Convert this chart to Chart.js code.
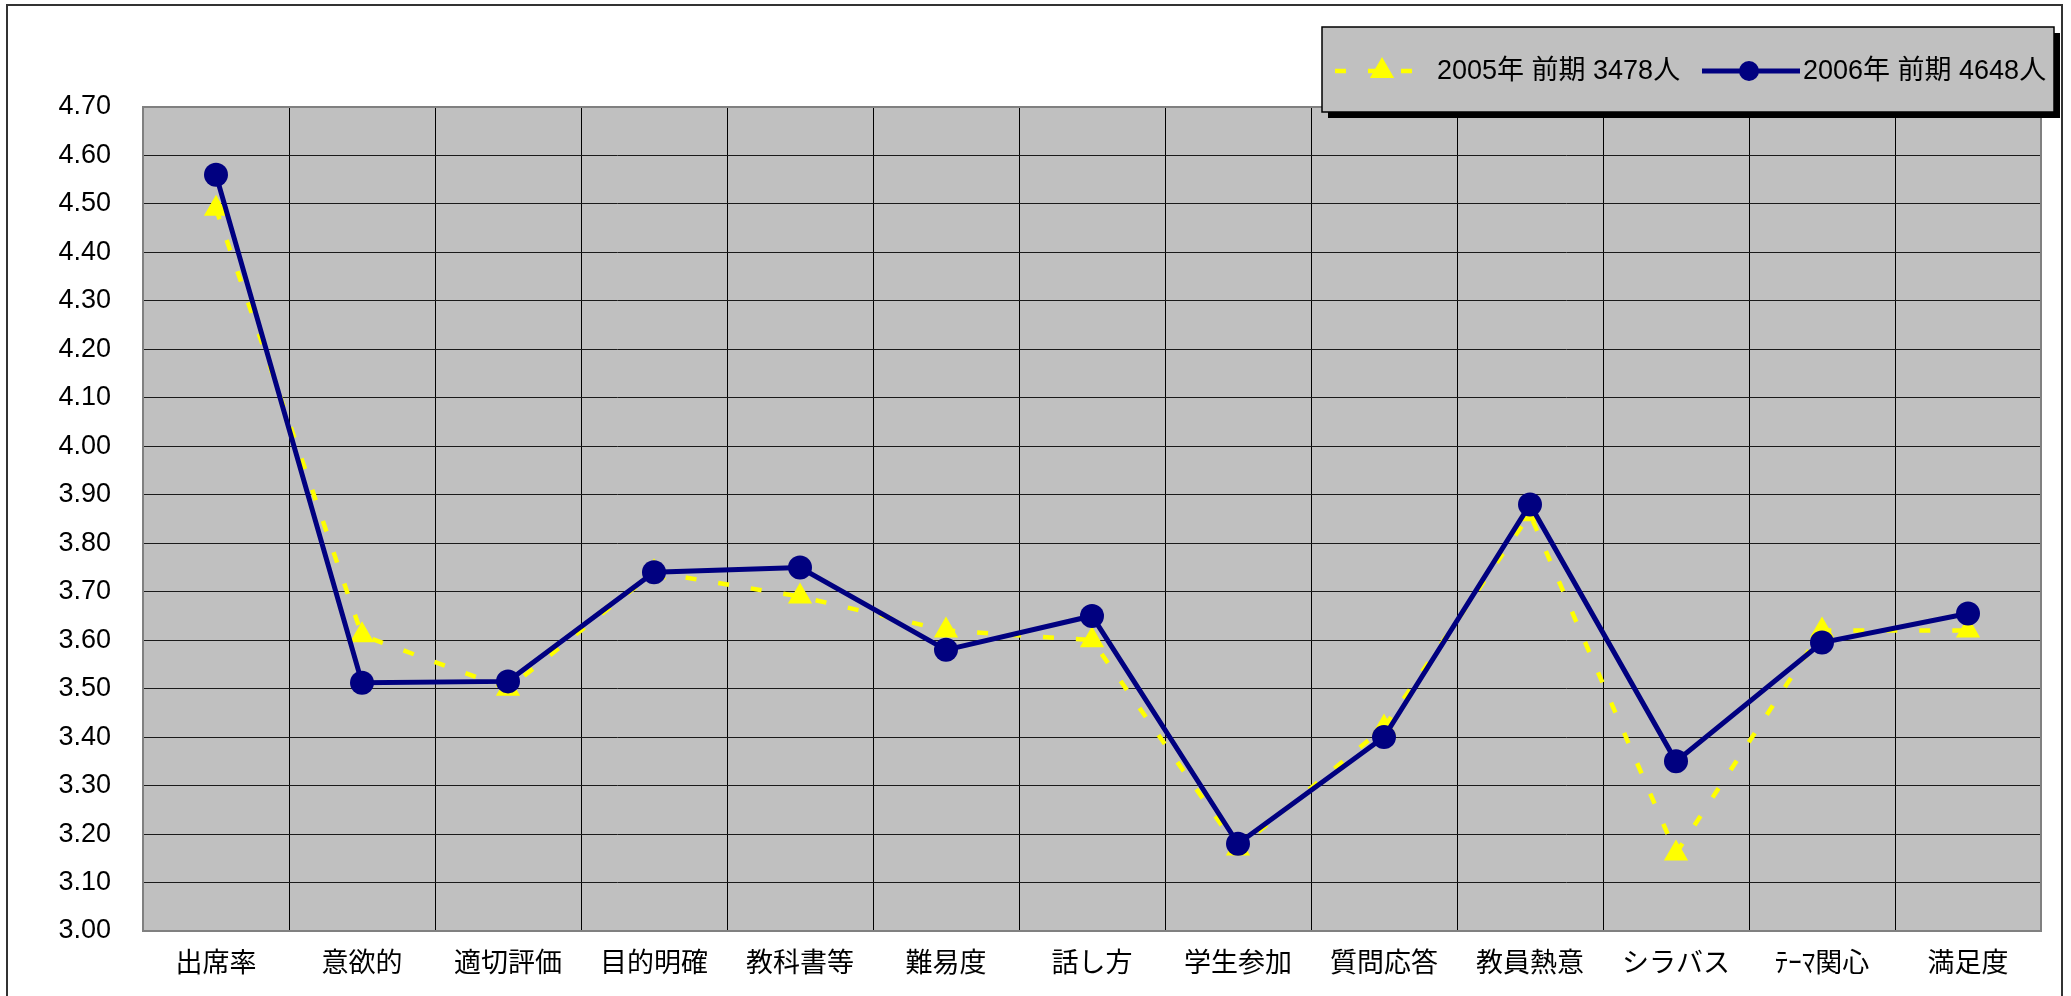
<!DOCTYPE html>
<html>
<head>
<meta charset="utf-8">
<script src="https://cdn.jsdelivr.net/npm/chart.js@4.4.1/dist/chart.umd.min.js"></script>
<style>
  html, body { margin: 0; padding: 0; background: #fff; }
  #wrap { position: relative; width: 2071px; height: 996px; }
</style>
</head>
<body>
<div id="wrap"><canvas id="c"></canvas></div>
<script>
const categories = ['出席率','意欲的','適切評価','目的明確','教科書等','難易度','話し方','学生参加','質問応答','教員熱意','シラバス','ﾃｰﾏ関心','満足度'];
const series2005Label = '2005年 前期 3478人';
const series2006Label = '2006年 前期 4648人';
const series2005 = [4.49, 3.61, 3.50, 3.74, 3.69, 3.62, 3.60, 3.17, 3.42, 3.86, 3.16, 3.62, 3.62];
const series2006 = [4.56, 3.512, 3.515, 3.74, 3.75, 3.58, 3.65, 3.18, 3.40, 3.88, 3.35, 3.595, 3.655];
const yMin = 3.0, yMax = 4.7, yStep = 0.1;

const FONT = "'Liberation Sans', Arial, 'Noto Sans CJK JP', sans-serif";
const YELLOW = '#FFFF00';
const NAVY = '#000080';
const DASH = [11, 22];

const framePlugin = {
  id: 'frame',
  beforeDraw(chart) {
    const ctx = chart.ctx, a = chart.chartArea;
    ctx.save();
    ctx.fillStyle = '#fff';
    ctx.fillRect(0, 0, chart.width, chart.height);
    ctx.strokeStyle = '#333';
    ctx.lineWidth = 2;
    ctx.strokeRect(7, 5, 2055, 1010);
    ctx.fillStyle = '#C0C0C0';
    ctx.fillRect(a.left, a.top, a.right - a.left, a.bottom - a.top);
    ctx.restore();
  },
  beforeDatasetsDraw(chart) {
    const ctx = chart.ctx, a = chart.chartArea;
    ctx.save();
    ctx.strokeStyle = '#808080';
    ctx.lineWidth = 2;
    ctx.strokeRect(a.left, a.top, a.right - a.left, a.bottom - a.top);
    ctx.restore();
  },
  afterDraw(chart) {
    const ctx = chart.ctx;
    const bx = 1322, by = 27, bw = 732, bh = 85;
    ctx.save();
    ctx.fillStyle = '#000';
    ctx.fillRect(bx + 6, by + 6, bw, bh);
    ctx.fillStyle = '#C0C0C0';
    ctx.fillRect(bx, by, bw, bh);
    ctx.strokeStyle = '#000';
    ctx.lineWidth = 1.5;
    ctx.strokeRect(bx, by, bw, bh);
    const cy = 71;
    // 2005 sample
    ctx.strokeStyle = YELLOW;
    ctx.lineWidth = 4.5;
    ctx.setLineDash(DASH);
    ctx.beginPath(); ctx.moveTo(1335, cy); ctx.lineTo(1416, cy); ctx.stroke();
    ctx.setLineDash([]);
    ctx.fillStyle = YELLOW;
    const r = 14, tx = 1382;
    ctx.beginPath();
    ctx.moveTo(tx, cy - r);
    ctx.lineTo(tx + r * Math.sin(2 * Math.PI / 3), cy + r / 2);
    ctx.lineTo(tx - r * Math.sin(2 * Math.PI / 3), cy + r / 2);
    ctx.closePath(); ctx.fill();
    // 2006 sample
    ctx.strokeStyle = NAVY;
    ctx.lineWidth = 5;
    ctx.beginPath(); ctx.moveTo(1702, cy); ctx.lineTo(1800, cy); ctx.stroke();
    ctx.fillStyle = NAVY;
    ctx.beginPath(); ctx.arc(1749, cy, 10, 0, Math.PI * 2); ctx.fill();
    // text
    ctx.fillStyle = '#000';
    ctx.font = '27px ' + FONT;
    ctx.textBaseline = 'middle';
    ctx.textAlign = 'left';
    ctx.fillText(series2005Label, 1437, cy + 1);
    ctx.fillText(series2006Label, 1803, cy + 1);
    ctx.restore();
  }
};

new Chart(document.getElementById('c'), {
  type: 'line',
  data: {
    labels: categories,
    datasets: [
      {
        label: series2005Label,
        data: series2005,
        order: 2,
        borderColor: YELLOW,
        backgroundColor: YELLOW,
        borderWidth: 4.5,
        borderDash: DASH,
        pointStyle: 'triangle',
        pointRadius: 14,
        pointHoverRadius: 14,
        pointBackgroundColor: YELLOW,
        pointBorderColor: YELLOW,
        pointBorderWidth: 0,
        tension: 0,
        fill: false
      },
      {
        label: series2006Label,
        data: series2006,
        order: 1,
        borderColor: NAVY,
        backgroundColor: NAVY,
        borderWidth: 5,
        pointStyle: 'circle',
        pointRadius: 12,
        pointHoverRadius: 12,
        pointBackgroundColor: NAVY,
        pointBorderColor: NAVY,
        pointBorderWidth: 0,
        tension: 0,
        fill: false
      }
    ]
  },
  options: {
    responsive: true,
    maintainAspectRatio: false,
    animation: false,
    events: [],
    layout: { padding: { left: 0, right: 30, top: 107, bottom: 0 } },
    plugins: { legend: { display: false }, tooltip: { enabled: false }, title: { display: false } },
    scales: {
      x: {
        type: 'category',
        offset: true,
        grid: { display: true, offset: true, color: '#000', lineWidth: 1, drawTicks: false },
        border: { display: false },
        ticks: { color: '#000', font: { family: FONT, size: 27 }, padding: 17, maxRotation: 0, autoSkip: false },
        afterFit(scale) { scale.height = 65; }
      },
      y: {
        min: yMin,
        max: yMax,
        grid: { display: true, color: '#1a1a1a', lineWidth: 1, drawTicks: false },
        border: { display: false },
        ticks: {
          stepSize: yStep,
          color: '#000',
          font: { family: FONT, size: 27 },
          padding: 32,
          callback: (v) => Number(v).toFixed(2)
        },
        afterFit(scale) { scale.width = 143; }
      }
    }
  },
  plugins: [framePlugin]
});
</script>
</body>
</html>
